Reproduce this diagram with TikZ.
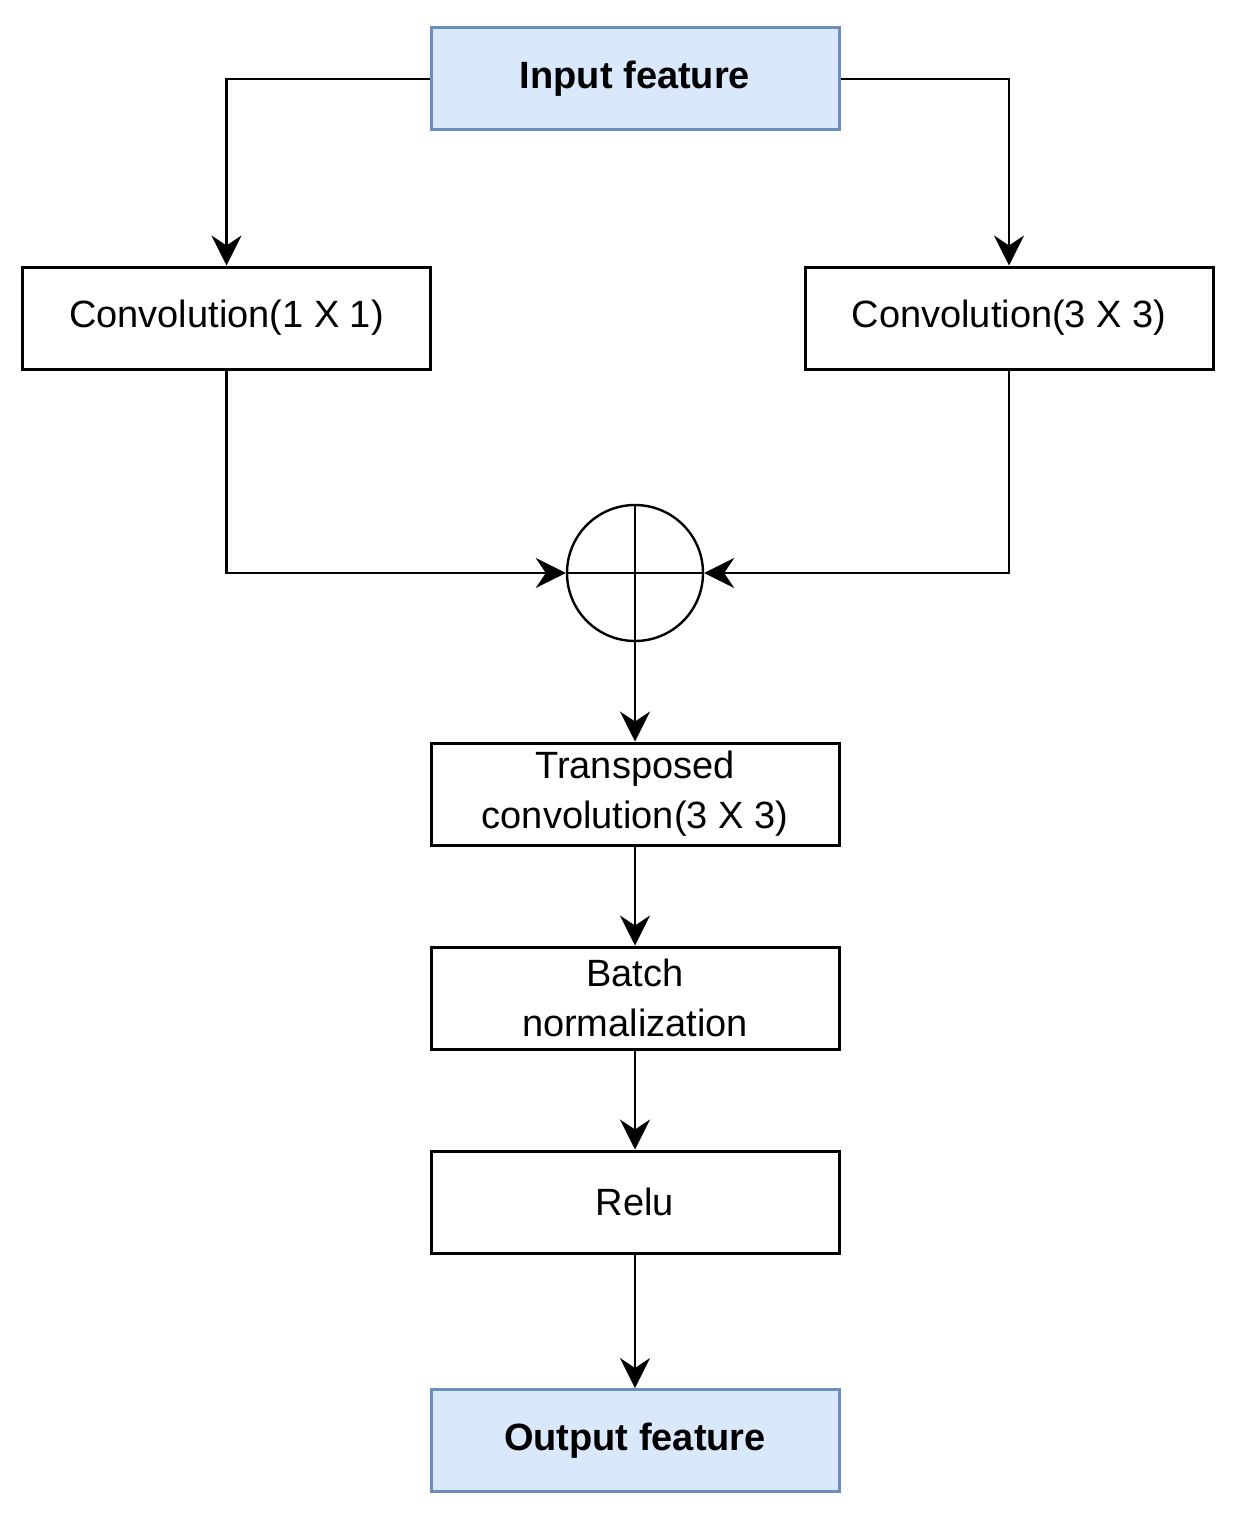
\documentclass[tikz,border=0pt]{standalone}
\usepackage{fontspec}
\setmainfont{Liberation Sans}
\usetikzlibrary{arrows.meta}
\definecolor{inblue}{HTML}{DAE8FC}
\definecolor{inedge}{HTML}{6C8EBF}
\begin{document}
\begin{tikzpicture}[x=0.5pt,y=-0.5pt,
    box/.style={rectangle, draw, line width=1.5pt, minimum width=204pt, minimum height=51pt,
      align=center, font=\fontsize{19}{25}\selectfont, inner sep=0pt},
    io/.style={box, fill=inblue, draw=inedge, font=\fontsize{19}{25}\selectfont\bfseries},
    arrow/.style={line width=1.2pt, -{Stealth[length=15pt,width=15pt,inset=5pt]}}]
  \useasboundingbox (0,0) rectangle (1234,1520);
  \node[io]  (in)    at (635,79)   {Input feature};
  \node[box] (c1)    at (226.5,318) {Convolution(1 X 1)};
  \node[box] (c3)    at (1009,318) {Convolution(3 X 3)};
  \node[circle, draw, line width=1.2pt, minimum size=68pt, inner sep=0pt] (sum) at (635,573) {};
  \draw[line width=1.2pt] (sum.north) -- (sum.south) (sum.west) -- (sum.east);
  \node[box] (tc)    at (635,794)  {Transposed\\convolution(3 X 3)};
  \node[box] (bn)    at (635,998)  {Batch\\normalization};
  \node[box] (relu)  at (635,1202) {Relu};
  \node[io]  (out)   at (635,1440.5) {Output feature};

  \draw[arrow] (in.west) -| (c1.north);
  \draw[arrow] (in.east) -| (c3.north);
  \draw[arrow] (c1.south) |- (sum.west);
  \draw[arrow] (c3.south) |- (sum.east);
  \draw[arrow] (sum.south) -- (tc.north);
  \draw[arrow] (tc.south) -- (bn.north);
  \draw[arrow] (bn.south) -- (relu.north);
  \draw[arrow] (relu.south) -- (out.north);
\end{tikzpicture}
\end{document}
